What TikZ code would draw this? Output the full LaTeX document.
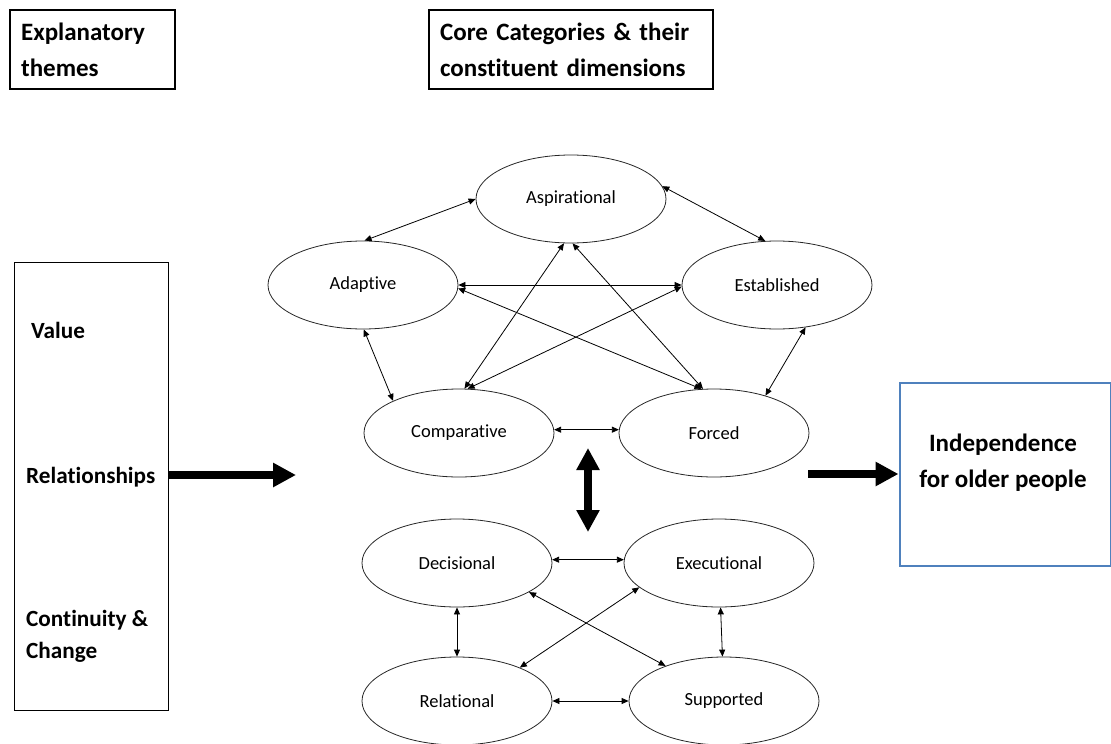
\documentclass[tikz,border=0pt]{standalone}
\usepackage{fontspec}
\setmainfont{Carlito}[Ligatures=NoCommon]
\usetikzlibrary{shapes.geometric,arrows.meta}
\definecolor{boxblue}{HTML}{4F81BD}
\begin{document}
\begin{tikzpicture}[x=1pt,y=-1pt,
  cat/.style={ellipse, draw=black!85, line width=0.8pt, minimum width=190pt, minimum height=88pt, inner sep=0pt, font=\fontsize{18.5}{22}\selectfont},
  link/.style={{Triangle[length=7pt,width=6pt]}-{Triangle[length=7pt,width=6pt]}, line width=0.8pt},
  bigarrow/.style={line width=7.5pt, -{Triangle[length=23pt,width=23pt]}},
  hdr/.style={draw, line width=2.2pt, align=left, font=\bfseries\fontsize{25}{36}\selectfont, inner xsep=11pt, minimum height=79pt, anchor=north west},
  themetxt/.style={anchor=base west, inner sep=0pt, font=\bfseries\fontsize{23.2}{32}\selectfont}
]
\useasboundingbox (0,0) rectangle (1111,744);

% header boxes
\node[hdr, text width=143pt] (expl) at (9,9) {Explanatory\\themes};
\node[hdr, text width=262pt] (core) at (428,9) {Core Categories \& their\\constituent\ dimensions};

% left box with themes
\node[draw, line width=0.8pt, minimum width=154pt, minimum height=448pt, anchor=north west] (themes) at (14,262) {};
\node[themetxt] (value) at (31,338) {Value};
\node[themetxt] (relship) at (26,483) {Relationships};
\node[themetxt] (contin) at (26,626) {Continuity \&};
\node[themetxt] (change) at (26,658) {Change};

% right box
\node[draw=boxblue, line width=2.2pt, minimum width=211pt, minimum height=183pt, anchor=north west] (indep) at (898.5,381.5) {};
\node[align=center, font=\bfseries\fontsize{25}{36}\selectfont] (indeptxt) at (1003,463) {Independence\\for older people};

% core category ellipses
\node[cat] (asp) at (571,199) {Aspirational};
\node[cat] (adp) at (363,285) {Adaptive};
\node[cat] (est) at (777,285) {Established};
\node[cat] (cmp) at (459,433) {Comparative};
\node[cat] (frc) at (714,433) {Forced};
\node[cat] (dec) at (457,563) {Decisional};
\node[cat] (exe) at (719,563) {Executional};
\node[cat] (rel) at (457,701) {Relational};
\node[cat] (sup) at (724,701) {Supported};

% connectors upper group
\draw[link] (asp.180) -- (adp.88);
\draw[link] (asp.8) -- (est.105);
\draw[link] (adp.0) -- (est.180);
\draw[link] (adp.-2) -- (frc.106);
\draw[link] (asp.261) -- (cmp.83);
\draw[link] (asp.272) -- (frc.104);
\draw[link] (cmp.79) -- (est.181);
\draw[link] (adp.271) -- (cmp.154);
\draw[link] (est.304) -- (frc.36);
\draw[link] (cmp.2) -- (frc.178);

% connectors lower group
\draw[link] (dec.2) -- (exe.178);
\draw[link] (dec.270) -- (rel.90);
\draw[link] (exe.272) -- (sup.92);
\draw[link] (rel.0) -- (sup.180);
\draw[link] (dec.338) -- (sup.149);
\draw[link] (exe.197) -- (rel.28);

% thick arrows
\coordinate (lefttip) at (296,475);
\draw[bigarrow] (themes.east |- lefttip) -- (lefttip);
\coordinate (rstart) at (808,474);
\draw[bigarrow] (rstart) -- (rstart -| indep.west);
\coordinate (vtop) at (588,448);
\coordinate (vbot) at (588,532);
\draw[line width=7.5pt, {Triangle[length=22pt,width=22pt]}-{Triangle[length=22pt,width=22pt]}] (vtop) -- (vbot);
\end{tikzpicture}
\end{document}
